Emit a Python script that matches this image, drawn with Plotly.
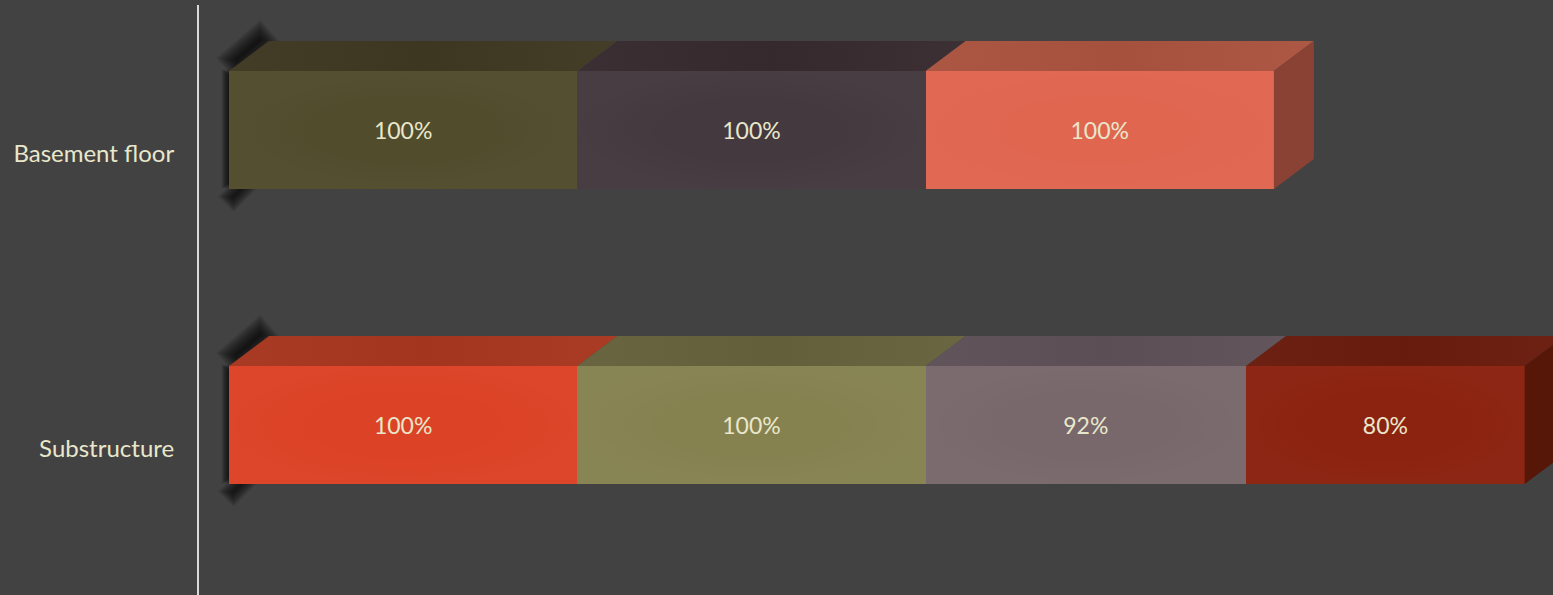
import plotly.graph_objects as go

# ---- data ----
categories = ["Substructure", "Basement floor"]
stage_1 = [100, 100]
stage_2 = [100, 100]
stage_3 = [92, 100]
stage_4 = [80, None]
tick_labels = ["Substructure", "Basement floor"]

# ---- colours: front, top per point ----
front_1 = ["#DC4226", "#504C2C"]
front_2 = ["#868250", "#44393E"]
front_3 = ["#78686C", "#E06650"]
front_4 = ["#8C2210", None]
top_1 = ["#A63822", "#403A24"]
top_2 = ["#66623E", "#382C30"]
top_3 = ["#5E5258", "#A85440"]
top_4 = ["#6A1E10", None]
side_colors = ["#561608", "#8A4234"]

BG = "#424242"
TEXT = "#E9E7CB"
FONT = "Lato"

W, H = 1553, 595
L, T = 199, 5
ZERO_PX = 229
PX_PER_VALUE = 3.483
PX_PER_CAT = 295
DEPTH_X = 40 / PX_PER_VALUE
DEPTH_Y = 30 / PX_PER_CAT
BAR_W = 0.4
LABEL_DROP = 0.079

x_range = [(L - ZERO_PX) / PX_PER_VALUE, (W - ZERO_PX) / PX_PER_VALUE]
y_range = [1 - (H - 130) / PX_PER_CAT, 1 + (130 - T) / PX_PER_CAT]
ypos = list(range(len(categories)))

stages = [stage_1, stage_2, stage_3, stage_4]
fronts = [front_1, front_2, front_3, front_4]
tops = [top_1, top_2, top_3, top_4]

fig = go.Figure()

# Flat front faces, through the library's stacked bars
for n, (vals, cols) in enumerate(zip(stages, fronts)):
    fig.add_trace(go.Bar(
        y=ypos, x=vals, orientation="h", width=BAR_W, name=f"Stage {n + 1}",
        marker=dict(color=[c if c else "rgba(0,0,0,0)" for c in cols], line=dict(width=0)),
        text=[f"{v}%" if v is not None else "" for v in vals],
        textposition="inside", insidetextanchor="middle", textangle=0,
        textfont=dict(family=FONT, size=23, color=TEXT), hoverinfo="skip",
    ))


def shade(hex_color, amount):
    r, g, b = (int(hex_color[i:i + 2], 16) for i in (1, 3, 5))
    f = lambda c: max(0, min(255, round(c + amount)))
    return f"rgb({f(r)},{f(g)},{f(b)})"


# Depth faces derived from the stacked values
for row, y in enumerate(ypos):
    start = 0
    last_end = 0
    yt = y + BAR_W / 2
    yb = y - BAR_W / 2
    for vals, cols_top in zip(stages, tops):
        v = vals[row]
        if v is None:
            continue
        end = start + v
        # top face
        fig.add_trace(go.Scatter(
            x=[start, end, end + DEPTH_X, start + DEPTH_X, start],
            y=[yt, yt, yt + DEPTH_Y, yt + DEPTH_Y, yt],
            mode="none", fill="toself", showlegend=False, hoverinfo="skip",
            fillgradient=dict(type="horizontal", colorscale=[
                [0, shade(cols_top[row], 3)], [0.5, shade(cols_top[row], -3)], [1, shade(cols_top[row], 4)]]),
        ))
        # faint sheen on the front
        fig.add_trace(go.Scatter(
            x=[start, end, end, start, start], y=[yb, yb, yt, yt, yb],
            mode="none", fill="toself", showlegend=False, hoverinfo="skip",
            fillgradient=dict(type="radial", colorscale=[
                [0, "rgba(255,255,255,0)"], [0.5, "rgba(255,255,255,0)"], [1, "rgba(255,255,255,0.02)"]]),
        ))
        start = end
        last_end = end
    # right side face
    fig.add_trace(go.Scatter(
        x=[last_end, last_end + DEPTH_X, last_end + DEPTH_X, last_end, last_end],
        y=[yt, yt + DEPTH_Y, yb + DEPTH_Y, yb, yt],
        mode="none", fill="toself", fillcolor=side_colors[row],
        showlegend=False, hoverinfo="skip",
    ))

# Soft wall shadows behind each bar: stacked translucent strokes below the traces
shapes = []


def smudge(base, x0, y0, x1, y1, max_w, steps, alpha, grow):
    """Blur-like stroke between two offsets in pixels (x right, y up)."""
    dx, dy = x1 - x0, y1 - y0
    length = (dx * dx + dy * dy) ** 0.5
    ux, uy = dx / length, dy / length
    for k in range(steps):
        w = max_w * (steps - k) / steps
        e = w * grow - 4
        shapes.append(dict(
            type="line", layer="below", xref="x", yref="y",
            x0=(x0 - ux * e) / PX_PER_VALUE, y0=(y0 - uy * e) / PX_PER_CAT + base,
            x1=(x1 + ux * e) / PX_PER_VALUE, y1=(y1 + uy * e) / PX_PER_CAT + base,
            line=dict(color=f"rgba(0,0,0,{alpha})", width=w)))


for y in ypos:
    half = BAR_W / 2 * PX_PER_CAT  # 59 px
    smudge(y, 4, half + 8, 34, half + 34, 30, 18, 0.05, 0.45)    # diagonal streak over the top
    smudge(y, 0, -half + 2, 0, half, 15, 12, 0.075, 0.35)        # along the left edge
    smudge(y, 16, -half + 4, 1, -half - 11, 22, 16, 0.055, 0.45)  # tail below the bar

fig.update_layout(
    width=W, height=H, barmode="stack", showlegend=False,
    paper_bgcolor=BG, plot_bgcolor=BG,
    margin=dict(l=L, r=0, t=T, b=0, pad=0),
    shapes=shapes,
    xaxis=dict(range=x_range, visible=False, fixedrange=True),
    yaxis=dict(
        range=y_range, tickmode="array",
        tickvals=[p - LABEL_DROP for p in ypos], ticktext=tick_labels,
        showgrid=False, zeroline=False, fixedrange=True,
        showline=True, linecolor="#D9D9D9", linewidth=2,
        ticks="outside", ticklen=18, tickcolor="rgba(0,0,0,0)",
        tickfont=dict(family=FONT, size=24, color=TEXT),
    ),
)

fig.write_html("out.html", config={"displayModeBar": False},
               post_script="document.body.style.margin='0';")
